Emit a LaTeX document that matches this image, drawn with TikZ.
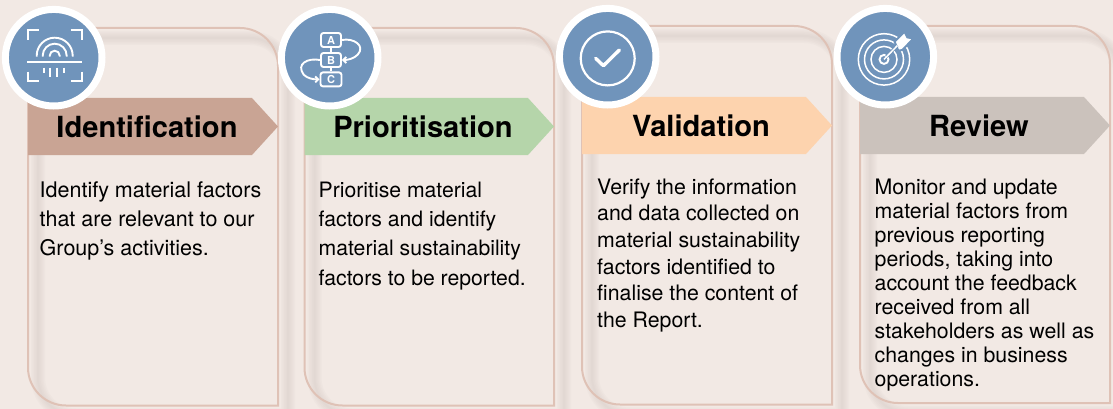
\documentclass[tikz,border=0pt]{standalone}
\usepackage{fontspec}
\setmainfont{TeX Gyre Heros}
\usetikzlibrary{arrows.meta}
\definecolor{pagebg}{HTML}{F2E9E4}
\definecolor{cardline}{HTML}{DFC2B6}
\definecolor{shadowc}{HTML}{B9ABA8}
\definecolor{iconblue}{HTML}{7094BB}
\definecolor{tagA}{HTML}{C9A494}
\definecolor{tagB}{HTML}{B5D5AA}
\definecolor{tagC}{HTML}{FDD3AE}
\definecolor{tagD}{HTML}{CBC2BC}
\tikzset{
  cardedge/.style={draw=cardline,line width=2pt},
  cardglow/.style={draw=shadowc,opacity=0.055},
  tagtitle/.style={font=\bfseries\fontsize{29.1}{32}\selectfont,text=black,inner sep=0pt,anchor=center},
  bodytext/.style={anchor=north west,inner sep=0pt,align=left,text=black},
  ring/.style={fill=iconblue,draw=white,line width=7pt},
  ico/.style={draw=white,line width=1.9pt,fill=none},
  icolabel/.style={text=white,inner sep=0pt,font=\bfseries\fontsize{11}{11}\selectfont},
}
\newcommand\cardoutline[5]{%
  \draw[#5] (#1,#2) -- ({#3-38},#2) .. controls ({#3-17},#2) and (#3,{#2+17}) .. (#3,{#2+38})
    -- (#3,#4) -- ({#1+38},#4) .. controls ({#1+17},#4) and (#1,{#4-17}) .. (#1,{#4-38}) -- cycle;}
\newcommand\card[4]{%
  \begin{scope}[shift={(10,10)}]
    \foreach \wd in {14,11,8,5,2}{\cardoutline{#1}{#2}{#3}{#4}{cardglow,line width=\wd pt}}
  \end{scope}
  \cardoutline{#1}{#2}{#3}{#4}{cardedge}}
\newcommand\tagshape[5]{%
  \fill[#5] (#1,#3) -- ({#2-26},#3) -- (#2,{#3+28.5}) -- ({#2-26},#4) -- (#1,#4) -- cycle;}
\begin{document}
\begin{tikzpicture}[x=1pt,y=-1pt]
\useasboundingbox[fill=pagebg] (0,0) rectangle (1113,409);
\card{28}{28}{278}{405.5}
\card{304.5}{28}{554}{405.5}
\card{582}{26}{832}{404.5}
\card{860}{26}{1110}{403}
\tagshape{28}{278}{98}{155}{tagA}
\tagshape{304.5}{554}{98}{155}{tagB}
\tagshape{582}{832}{97}{154}{tagC}
\tagshape{860}{1110}{97}{154}{tagD}
\node[tagtitle] (t1) at (147,127) {Identification};
\node[tagtitle] (t2) at (423,127) {Prioritisation};
\node[tagtitle] (t3) at (701,126) {Validation};
\node[tagtitle] (t4) at (979,126) {Review};
\node[bodytext,font=\fontsize{21.5}{29.2}\selectfont] (b1) at (39.5,181.5) {Identify material factors\\that are relevant to our\\Group’s activities.};
\node[bodytext,font=\fontsize{21.2}{29.4}\selectfont] (b2) at (318.5,181.5) {Prioritise material\\factors and identify\\material sustainability\\factors to be reported.};
\node[bodytext,font=\fontsize{21.3}{26.6}\selectfont] (b3) at (597,178.5) {Verify the information\\and data collected on\\material sustainability\\factors identified to\\finalise the content of\\the Report.};
\node[bodytext,font=\fontsize{21.3}{24}\selectfont] (b4) at (874.5,178.5) {Monitor and update\\material factors from\\previous reporting\\periods, taking into\\account the feedback\\received from all\\stakeholders as well as\\changes in business\\operations.};
% icon 1
\begin{scope}[shift={(53.7,57.7)}]
  \fill[ring] (0,0) circle (48.3);
  \draw[ico] (-15,-28) -- (-26,-28) -- (-26,-18);
  \draw[ico] (17,-28) -- (28,-28) -- (28,-18);
  \draw[ico] (-26,14) -- (-26,23) -- (-15,23);
  \draw[ico] (28,14) -- (28,23) -- (17,23);
  \draw[ico] (-26.5,4) -- (28.5,4);
  \draw[ico] (-17,-1) -- (-17,-2) arc (180:360:18) -- (19,-1);
  \draw[ico] (-11,-1) -- (-11,-2) arc (180:360:12) -- (13,-1);
  \draw[ico] (-4,-1) -- (-4,-2) arc (180:360:5) -- (6,-1);
  \draw[ico] (-10,10) -- (-10,15);
  \draw[ico] (-3.5,10) -- (-3.5,19);
  \draw[ico] (3.5,10) -- (3.5,19);
  \draw[ico] (10,10) -- (10,15);
\end{scope}
% icon 2
\begin{scope}[shift={(329.7,57.7)}]
  \fill[ring] (0,0) circle (48.3);
  \node[ico,draw,rounded corners=2.5pt,minimum width=20pt,minimum height=14pt,inner sep=0pt] (ka) at (1.3,-17.7) {};
  \node[ico,draw,rounded corners=2.5pt,minimum width=20pt,minimum height=14pt,inner sep=0pt] (kb) at (1.3,2.3) {};
  \node[ico,draw,rounded corners=2.5pt,minimum width=21pt,minimum height=14pt,inner sep=0pt] (kc) at (1.3,21.7) {};
  \node[icolabel] (la) at (1.3,-17.7) {A};
  \node[icolabel] (lb) at (1.3,2.3) {B};
  \node[icolabel] (lc) at (1.3,21.7) {C};
  \draw[ico] (ka) -- (kb);
  \draw[ico] (kb) -- (kc);
  \draw[ico,-{Straight Barb[length=3pt,width=6pt]}] (ka.east) .. controls (24,-20) and (36,-12) .. (28,-3) .. controls (24,1) and (18,2.3) .. (kb.east);
  \draw[ico,-{Straight Barb[length=3pt,width=6pt]}] (kb.west) .. controls (-22,0) and (-34,6) .. (-26,17) .. controls (-22,21) and (-16,21.7) .. (kc.west);
\end{scope}
% icon 3
\begin{scope}[shift={(607.7,56.7)}]
  \fill[ring] (0,0) circle (48.3);
  \draw[ico,line width=2.2pt] (0,1.7) circle (27);
  \draw[draw=white,line width=3.4pt,line cap=round,line join=round] (-12,1.7) -- (-4.3,9) -- (11.7,-6.7);
\end{scope}
% icon 4
\begin{scope}[shift={(885.3,56.7)}]
  \fill[ring] (0,0) circle (48.3);
  \draw[ico,line width=1.5pt] (-1.3,2.7) circle (25.7);
  \draw[ico,line width=1.5pt] (-1.3,2.7) circle (19.5);
  \draw[ico,line width=1.5pt] (-1.3,2.7) circle (13);
  \draw[ico,line width=1.9pt] (-1.3,2.7) circle (4.5);
  \draw[fill=white,draw=iconblue,line width=2pt,line join=round] (9.3,-15) -- (19.3,-25) -- (22,-19.3) -- (28.3,-18.3) -- (17,-6.7) -- (13,-6) -- cycle;
  \draw[draw=iconblue,line width=3pt] (1,0) -- (12,-11);
  \draw[ico,line width=1.5pt] (-1.3,2.7) -- (12,-11);
\end{scope}
\end{tikzpicture}
\end{document}
